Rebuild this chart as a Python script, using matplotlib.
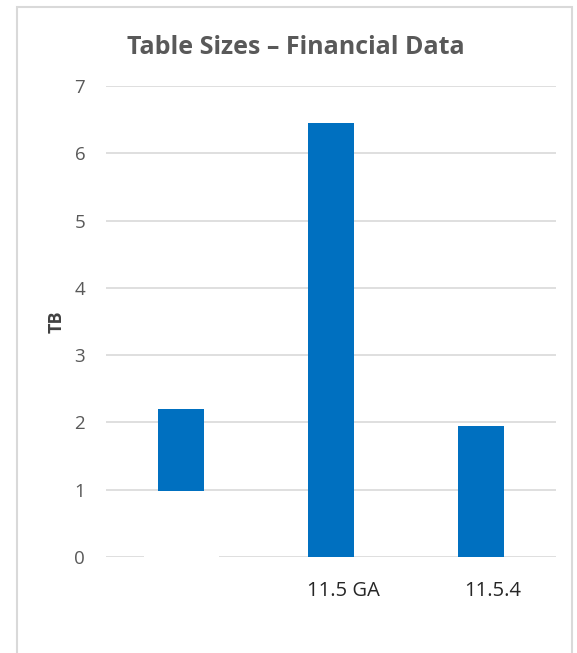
import matplotlib.pyplot as plt
from matplotlib.patches import Rectangle

# chart data
categories = ["", "11.5 GA", "11.5.4"]
bar_tops = [2.2, 6.45, 1.95]
bar_bottoms = [0.98, 0, 0]
y_ticks = [0, 1, 2, 3, 4, 5, 6, 7]

plt.rcParams['font.family'] = ['Open Sans', 'DejaVu Sans']

fig = plt.figure(figsize=(5.77, 6.53), dpi=100)
fig.patch.set_facecolor('white')

# light gray outer frame of the chart area
fig.patches.append(Rectangle((17 / 577, -0.01), (572 - 17) / 577, (653 - 7) / 653 + 0.01,
                             transform=fig.transFigure, fill=False,
                             edgecolor='#d9d9d9', lw=1.5))

ax = fig.add_axes([106 / 577, 96 / 653, 450 / 577, 471 / 653])
x = list(range(len(categories)))
heights = [t - b for t, b in zip(bar_tops, bar_bottoms)]

# white block hiding the base of the first (floating) bar
ax.bar(x[0], bar_bottoms[0] - 0.04, bottom=-0.05, width=0.5, color='white', zorder=2)
ax.bar(x, heights, bottom=bar_bottoms, width=0.31, color='#0070c0', zorder=3)

ax.set_xlim(-0.5, 2.5)
ax.set_ylim(0, 7)
ax.set_yticks(y_ticks)
ax.yaxis.grid(True, color='#d9d9d9', lw=1.2, zorder=0)
ax.set_axisbelow(True)
for s in ax.spines.values():
    s.set_visible(False)

ax.set_xticks([i + 0.08 for i in x])
ax.set_xticklabels(categories, fontsize=14.5, color='#262626')
ax.tick_params(axis='x', length=0, pad=17)
ax.tick_params(axis='y', length=0, pad=15, labelsize=13.5, labelcolor='#595959')

ax.set_ylabel("TB", fontsize=13, fontweight='bold', color='#404040', labelpad=6)
fig.text(296 / 577, 1 - 47 / 653, "Table Sizes \u2013 Financial Data", ha='center', va='center',
         fontsize=18, fontweight='bold', color='#595959')

fig.savefig("out.png", dpi=100)
